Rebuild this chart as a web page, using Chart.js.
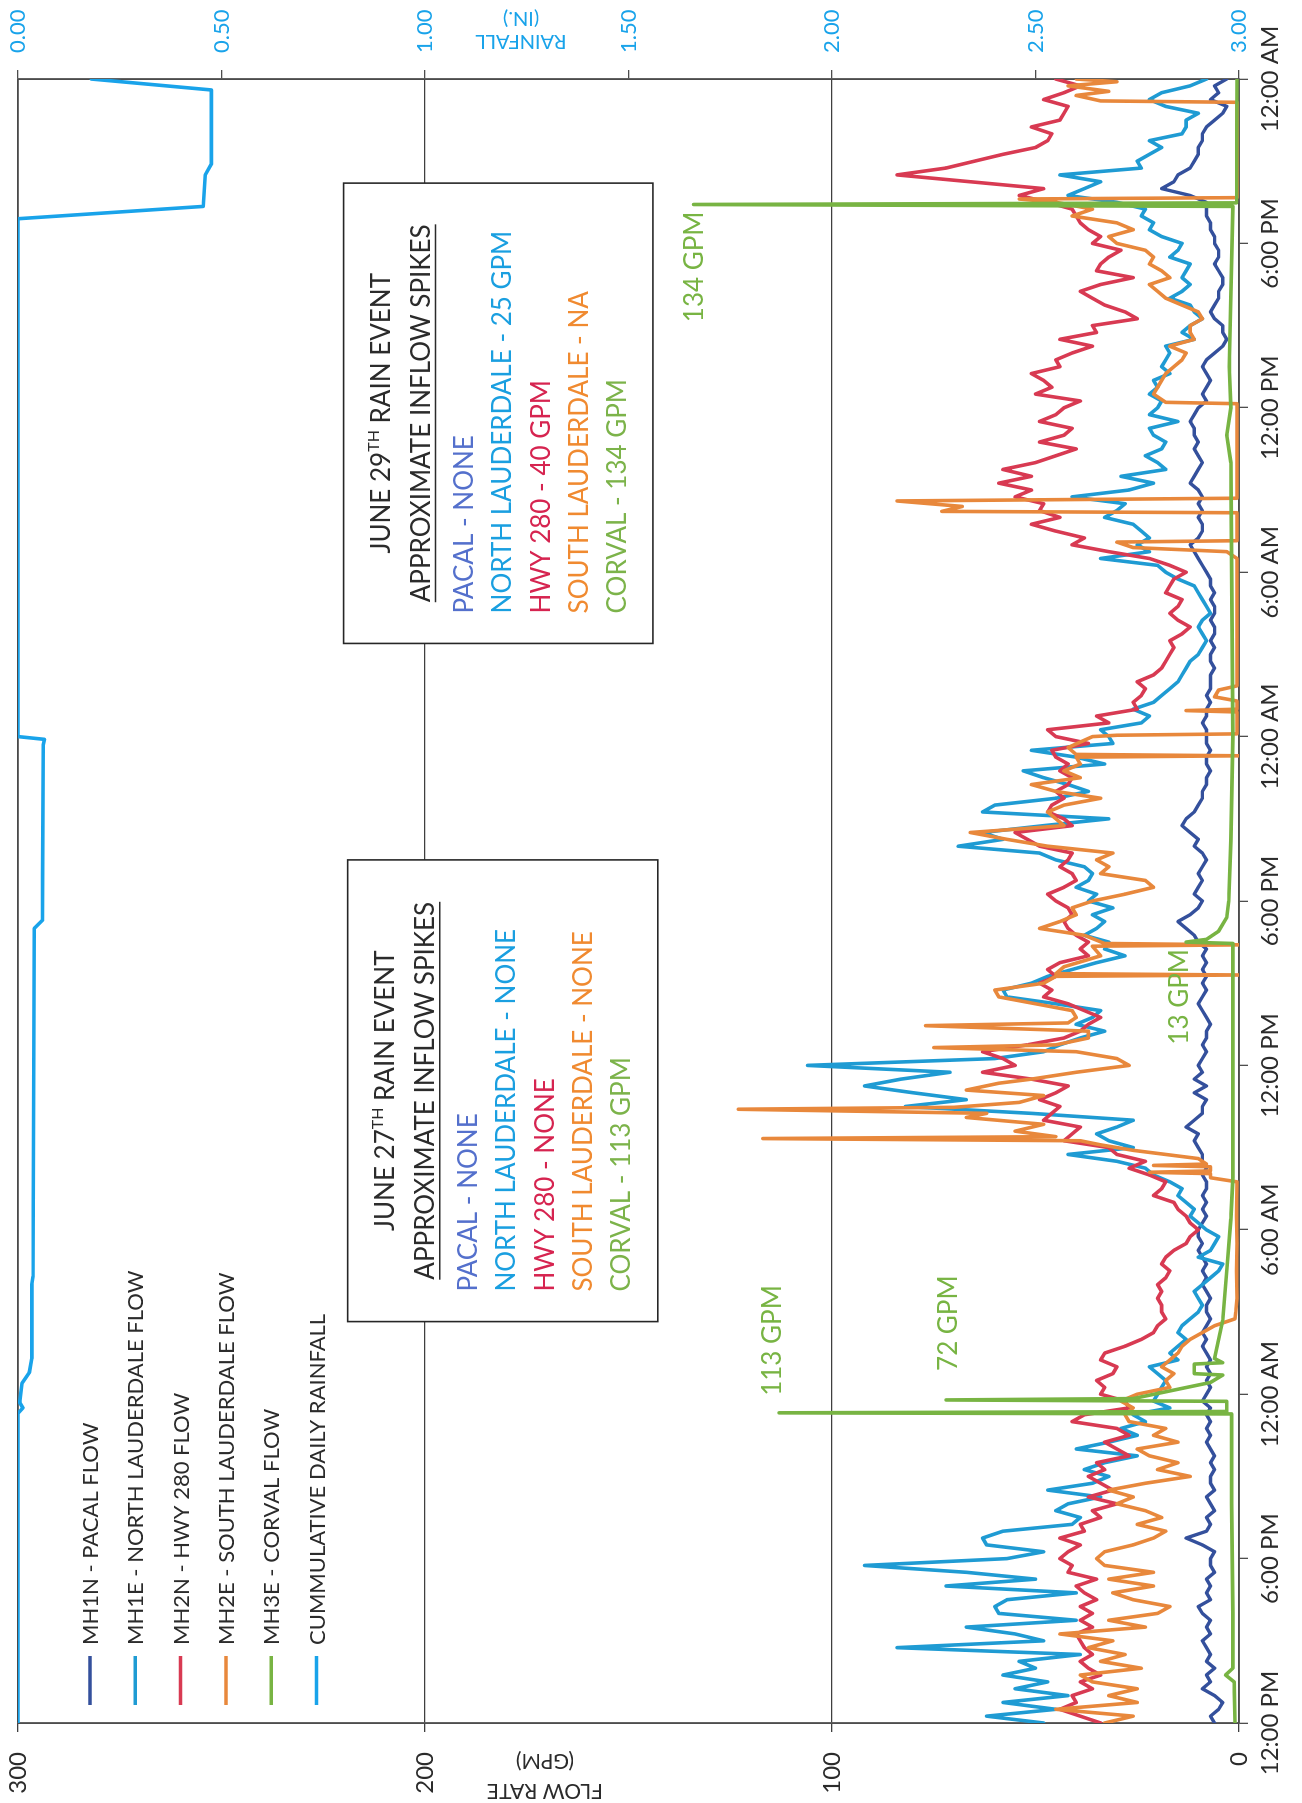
<!DOCTYPE html>
<html>
<head>
<meta charset="utf-8">
<title>Flow monitoring – June rain events</title>
<script src="https://cdn.jsdelivr.net/npm/chart.js@4/dist/chart.umd.min.js"></script>
<style>
  html, body { margin: 0; padding: 0; background: #ffffff; }
  body { width: 1302px; height: 1803px; overflow: hidden; position: relative; }
  /* the chart is laid out landscape and turned to fit the portrait sheet */
  #sheet {
    position: absolute; left: 0; top: 0;
    width: 1803px; height: 1302px;
    transform-origin: 0 0;
    transform: translate(0, 1803px) rotate(-90deg);
  }
  canvas { display: block; }
</style>
</head>
<body>
<div id="sheet"><canvas id="flow" width="1803" height="1302"></canvas></div>
<script>
// ---------------------------------------------------------------
// Data: hours counted from 12:00 PM on the first day (60 h span)
// ---------------------------------------------------------------
const TIME_TICK_HOURS = [0, 6, 12, 18, 24, 30, 36, 42, 48, 54, 60];
const TIME_LABELS = ['12:00 PM', '6:00 PM', '12:00 AM', '6:00 AM', '12:00 PM', '6:00 PM',
                     '12:00 AM', '6:00 AM', '12:00 PM', '6:00 PM', '12:00 AM'];
const FLOW_TICKS = [0, 100, 200, 300];
const RAIN_TICKS = [0, 0.5, 1, 1.5, 2, 2.5, 3];

// 15-minute sampling used by the three steadier meters
const HOURS = Array.from({ length: 241 }, (_, i) => i * 0.25);

// MH1N - Pacal flow (GPM)
const PACAL_GPM = [
  6,7,5,4,6,9,7,8,6,8, 7,8,9,7,8,7,9,10,7,8, 7,8,6,7,7,6,9,13,8,7, 8,6,7,8,6,7,7,6,7,6, 7,8,7,8,7,8,7,9,8,
  7,8,7,8,7,8,9,8,9,8, 7,8,8,7,8,9,8,9,8,9, 10,9,10,10,9,8,9,8,9,8, 8,9,8,9,9,10,11,10,13,11, 9,9,8,11,8,11,9,10,
  9,8,9,8,8,7,8,9,10,9, 8,9,8,9,8,9,8,10,11,13, 15,12,10,9,11,10,9,10,9,8, 9,11,10,12,14,13,11,10,9,9, 8,8,7,8,8,7,8,8,
  8,9,8,8,7,8,7,7,7,6, 7,7,6,7,6,6,7,6,6,7, 6,7,7,8,9,10,11,12,10,9, 9,10,9,10,9,10,12,11,10,9, 10,11,10,11,11,12,11,10,
  8,9,8,7,8,9,8,6,4,3, 4,4,6,7,6,5,5,4,4,5, 6,5,5,6,6,7,7,8,8,8, 12,19,16,15,12,11,10,10,9,9, 8,6,4,3,7,5,6,3
];

// MH1E - North Lauderdale flow (GPM)
const NORTH_LAUDERDALE_GPM = [
  48,62,45,58,42,55,47,58,50,54, 39,84,48,55,67,40,59,60,57,40, 72,50,67,92,57,48,62,63,58,41, 39,45,42,34,47,36,32,38,33,25, 40,32,25,29,23,26,17,21,20,
  19,18,20,22,15,17,15,13,15,14, 12,10,9,10,11,9,7,5,4,10, 7,6,5,8,10,12,11,13,15,14, 17,21,23,30,42,26,32,35,30,26, 51,82,67,80,92,83,71,106,
  60,48,44,39,33,40,36,34,45,57, 58,51,47,41,35,28,33,32,38,35, 33,36,31,37,35,40,37,36,38,45, 49,69,58,63,48,32,63,60,45,37, 42,48,53,33,40,51,31,32,
  34,24,22,26,21,19,17,15,14,13, 12,10,9,8,9,10,9,7,8,9, 10,11,15,18,20,34,22,25,22,24, 26,33,30,28,41,27,21,29,18,20, 23,19,18,21,22,15,22,20,
  19,22,20,21,17,19,18,17,18,11, 14,12,9,11,12,17,14,12,14,13, 12,17,15,14,19,22,21,24,23,30, 42,38,34,44,24,25,22,19,22,14, 13,13,10,18,22,19,12,8
];

// MH2N - HWY 280 flow (GPM)
const HWY_280_GPM = [
  34,39,44,40,41,36,39,34,37,39, 36,38,39,40,36,39,36,39,35,38, 40,35,42,41,44,42,39,44,38,39, 34,36,30,37,31,34,37,33,35,27, 30,33,27,30,41,38,27,28,34,
  33,35,31,30,34,33,28,24,21,20, 18,19,19,20,19,20,18,17,19,18, 16,13,12,10,12,13,15,16,21,19, 18,22,27,23,30,32,43,41,39,48, 46,44,49,45,42,51,63,55,
  58,63,52,43,39,37,34,38,42,48, 46,49,45,47,44,37,39,37,40,42, 43,41,42,45,47,43,40,41,44,42, 41,49,52,55,41,43,47,46,43,45, 42,41,44,42,45,46,37,45,
  47,32,35,25,26,24,23,25,21,19, 18,17,16,17,14,12,15,17,15,14, 18,17,16,13,17,22,32,41,38,45, 51,44,49,48,55,51,59,51,58,50, 45,40,49,43,41,49,45,43,
  39,50,46,48,51,44,45,41,36,44, 35,36,25,28,33,36,39,34,26,35, 34,32,29,36,34,37,39,40,41,47, 54,48,66,84,72,65,58,50,47,46, 51,44,43,42,48,43,39,45
];

// MH2E - South Lauderdale flow, [hour, GPM] (meter drop-outs read as zero)
const SOUTH_LAUDERDALE = [
  [0,33],[0.25,26],[0.5,45],[0.75,25],[1,32],[1.25,25],[1.5,36],[1.75,39],[2,24],[2.25,34],
  [2.5,28],[2.75,37],[3,31],[3.25,44],[3.5,23],[3.75,32],[4,20],[4.25,17],[4.5,26],[4.75,31],
  [5,21],[5.25,32],[5.5,21],[5.75,33],[6,35],[6.25,33],[6.5,26],[6.75,21],[7,18],[7.25,25],
  [7.5,19],[7.75,23],[8,30],[8.25,26],[8.5,32],[8.75,23],[9,12],[9.25,20],[9.5,15],[9.75,22],
  [10,25],[10.25,15],[10.5,21],[10.75,18],[11,27],[11.25,28],[11.5,26],[11.75,29],[12,25],
  [12.25,17],[12.5,18],[12.75,16],[13,19],[13.25,17],[13.5,15],[13.75,14],[14,12],[14.25,9],[14.5,6],
  [14.75,1],[15,0.8],[15.5,0.5],[16.5,0.6],[17.5,0.5],[18.5,0.6],[19.75,0.5],[19.9,7],[20.05,7],[20.1,22],
  [20.15,7],[20.3,7],[20.35,21],[20.4,8],[20.6,10],[20.9,26],[21.1,34],[21.25,39],[21.33,117],[21.4,45],
  [21.6,55],[21.85,48],[22.1,67],[22.25,62],[22.4,123],[22.47,70],[22.65,54],[22.9,48],[23.1,67],[23.35,59],
  [23.5,51],[23.75,40],[24,27],[24.25,30],[24.5,40],[24.65,75],[24.75,45],[25,37],[25.25,37],[25.45,77],
  [25.55,42],[25.75,40],[26,41],[26.25,50],[26.5,59],[26.75,60],[27,48],[27.25,45],[27.3,0],[27.35,45],
  [27.6,43],[28,34],[28.35,36],[28.4,0],[28.45,33],[28.75,38],[29,49],[29.25,44],[29.5,40],[29.75,41],
  [30,36],[30.25,28],[30.5,21],[30.75,23],[31,34],[31.25,32],[31.5,35],[31.75,31],[32,47],[32.25,57],
  [32.5,66],[32.75,43],[33,45],[33.25,47],[33.5,43],[33.75,34],[34,45],[34.25,51],[34.5,39],[34.75,43],
  [35,39],[35.25,40],[35.3,0],[35.35,40],[35.6,42],[35.8,39],[36,36],[36.05,30],[36.1,0.5],[36.9,0.5],
  [36.95,13],[37,0.5],[37.3,0.5],[37.45,6],[37.7,5],[37.85,0.5],[42.5,0.5],[42.75,3],[42.9,26],[43.1,30],
  [43.15,0.5],[44.17,0.5],[44.22,73],[44.4,68],[44.6,84],[44.7,0.5],[48.15,0.5],[48.2,18],[48.5,21],[48.75,20],
  [49,19],[49.25,18],[49.5,16],[49.75,14],[50,13],[50.25,17],[50.5,11],[50.75,12],[51,12],[51.25,9],
  [51.5,10],[51.75,14],[52,18],[52.25,20],[52.5,22],[52.75,17],[53,19],[53.25,22],[53.5,21],[53.75,23],
  [54,30],[54.25,32],[54.5,26],[54.75,30],[55,41],[55.25,36],[55.5,45],[55.62,54],[55.67,0.5],[59.15,0.5],
  [59.2,34],[59.4,40],[59.55,32],[59.75,42],[59.9,30],[60,40]
];

// MH3E - Corval flow, [hour, GPM]
const CORVAL = [
  [0,1.0],[1.5,1.2],[1.75,3.3],[2,1.5],[4,1.5],[8,1.8],[11.28,1.8],[11.32,113],[11.37,3],[11.74,3],
  [11.79,72],[11.84,26],[12.43,7],[12.7,4],[12.75,11],[13.1,11],[13.15,4],[13.3,6],[14.7,4],[16.5,3],
  [18.4,2],[19.9,1.5],[28.45,1.5],[28.5,13],[28.6,8],[28.9,5],[29.4,3],[30,2.5],[32.2,2],[36,1.5],
  [46,2],[47,3],[48,2],[49.5,2.4],[55.35,1.5],[55.42,134],[55.48,0.6],[60,0.5]
];

// Cumulative daily rainfall, [hour, inches] (resets at midnight)
const RAINFALL = [
  [0,0],[11.3,0],[11.5,0.012],[11.7,0.004],[12.4,0.01],[12.8,0.028],[13.3,0.034],[16,0.034],[16.3,0.037],
  [29,0.04],[29.3,0.06],[35.7,0.062],[35.9,0.065],[36,0],[54.9,0],[55.35,0.455],[56.5,0.46],[56.9,0.475],
  [59.6,0.475],[60,0.18]
];

// Rain-event summary boxes
const EVENT_BOXES = [
  { title: ['JUNE 27', 'TH', ' RAIN EVENT'],
    lines: ['PACAL - NONE', 'NORTH LAUDERDALE - NONE', 'HWY 280 - NONE', 'SOUTH LAUDERDALE - NONE', 'CORVAL - 113 GPM'] },
  { title: ['JUNE 29', 'TH', ' RAIN EVENT'],
    lines: ['PACAL - NONE', 'NORTH LAUDERDALE - 25 GPM', 'HWY 280 - 40 GPM', 'SOUTH LAUDERDALE - NA', 'CORVAL - 134 GPM'] }
];

// Corval spike call-outs: peak hour and value
const SPIKE_NOTES = [
  { text: '113 GPM', hour: 11.32, gpm: 113 },
  { text: '72 GPM',  hour: 11.79, gpm: 72 },
  { text: '13 GPM',  hour: 28.5,  gpm: 13 },
  { text: '134 GPM', hour: 55.42, gpm: 134 }
];

// ---------------------------------------------------------------
// Styling
// ---------------------------------------------------------------
const FONT = 'Lato, "Open Sans", "DejaVu Sans", sans-serif';
const INK = '#2b2b2b';
const FRAME = '#4d4d4d';
const COLORS = {
  pacal: '#34509c', north: '#1f9bd3', hwy: '#d83a52',
  south: '#e8883c', corval: '#78b443', rain: '#19a3ea'
};
const BOX_TEXT_COLORS = ['#5470cc', '#1a9fe0', '#d62450', '#f08a30', '#7cb34a'];

// box extents in axis units (hours, GPM)
const BOX_SPANS = [
  { h0: 14.65, h1: 31.5, top: 219, bottom: 142.8 },
  { h0: 39.4, h1: 56.2, top: 220, bottom: 144 }
];
// label offsets from each spike tip, px (along time, along flow)
const NOTE_OFFSETS = [
  { dx: 17, dy: -6, align: 'left' },
  { dx: 29, dy: 3, align: 'left' },
  { dx: -7, dy: -6, align: 'right' },
  { dx: -7, dy: 1, align: 'right' }
];

const grid = (h, v) => h.map((x, i) => ({ x, y: v[i] }));
const pairs = p => p.map(([x, y]) => ({ x, y }));

function line(label, data, color, order, axis, width) {
  return {
    label, data, order,
    yAxisID: axis,
    borderColor: color, backgroundColor: color,
    borderWidth: width, pointRadius: 0, tension: 0,
    fill: false, borderJoinStyle: 'round', borderCapStyle: 'round'
  };
}

// keep the plot frame fixed: no extra room for labels hanging past the ends
const pinVertical = w => s => { s.width = w; s.paddingTop = 0; s.paddingBottom = 0; };
const pinHorizontal = h => s => { s.height = h; s.paddingLeft = 0; s.paddingRight = 0; };

// ---------------------------------------------------------------
// Overlay: frame, axis titles, legend, event boxes, spike notes
// ---------------------------------------------------------------
const overlay = {
  id: 'overlay',
  beforeDatasetsDraw(chart) {
    const { ctx, chartArea: a } = chart;
    ctx.save();
    ctx.strokeStyle = FRAME;
    ctx.lineWidth = 1.5;
    ctx.strokeRect(a.left, a.top, a.right - a.left, a.bottom - a.top);
    ctx.restore();
  },
  afterDatasetsDraw(chart) {
    const { ctx, chartArea: a, scales } = chart;
    const xs = scales.x, ys = scales.y;
    ctx.save();

    // axis titles (turned to read upward)
    const vTitle = (lines, cu, cv, gap, color, size) => {
      ctx.save();
      ctx.translate(cu, cv);
      ctx.rotate(-Math.PI / 2);
      ctx.fillStyle = color;
      ctx.font = `${size}px ${FONT}`;
      ctx.textAlign = 'center';
      ctx.textBaseline = 'middle';
      lines.forEach((t, i) => ctx.fillText(t, 0, (i - (lines.length - 1) / 2) * gap));
      ctx.restore();
    };
    vTitle(['FLOW RATE', '(GPM)'], 27, 545, 30, INK, 21);
    vTitle(['RAINFALL', '(IN.)'], chart.width - 30, 521, 23, COLORS.rain, 20);

    // legend
    ctx.font = `22px ${FONT}`;
    ctx.textBaseline = 'middle';
    ctx.textAlign = 'left';
    chart.data.datasets.forEach((ds, i) => {
      const v = a.top + 72 + i * 45.3;
      ctx.strokeStyle = ds.borderColor;
      ctx.lineWidth = 3.5;
      ctx.beginPath();
      ctx.moveTo(a.left + 18, v);
      ctx.lineTo(a.left + 67, v);
      ctx.stroke();
      ctx.fillStyle = INK;
      ctx.fillText(ds.label, a.left + 78, v + 1);
    });

    // event boxes
    EVENT_BOXES.forEach((box, bi) => {
      const s = BOX_SPANS[bi];
      const l = xs.getPixelForValue(s.h0), r = xs.getPixelForValue(s.h1);
      const t = ys.getPixelForValue(s.top), b = ys.getPixelForValue(s.bottom);
      ctx.fillStyle = '#ffffff';
      ctx.fillRect(l, t, r - l, b - t);
      ctx.strokeStyle = '#262626';
      ctx.lineWidth = 1.6;
      ctx.strokeRect(l, t, r - l, b - t);

      const cx = (l + r) / 2;
      ctx.textBaseline = 'middle';
      ctx.fillStyle = INK;
      // title with superscript ordinal
      const big = `26px ${FONT}`, sup = `16px ${FONT}`;
      ctx.font = big; const w1 = ctx.measureText(box.title[0]).width;
      const w3 = ctx.measureText(box.title[2]).width;
      ctx.font = sup; const w2 = ctx.measureText(box.title[1]).width;
      let x = cx - (w1 + w2 + w3) / 2;
      ctx.textAlign = 'left';
      ctx.font = big; ctx.fillText(box.title[0], x, t + 38); x += w1;
      ctx.font = sup; ctx.fillText(box.title[1], x, t + 30); x += w2;
      ctx.font = big; ctx.fillText(box.title[2], x, t + 38);

      const sub = 'APPROXIMATE INFLOW SPIKES';
      const ws = ctx.measureText(sub).width;
      ctx.fillText(sub, cx - ws / 2, t + 78);
      ctx.strokeStyle = INK;
      ctx.lineWidth = 1.5;
      ctx.beginPath();
      ctx.moveTo(cx - ws / 2, t + 92);
      ctx.lineTo(cx + ws / 2, t + 92);
      ctx.stroke();

      box.lines.forEach((txt, i) => {
        ctx.fillStyle = BOX_TEXT_COLORS[i];
        ctx.fillText(txt, l + 30, t + 121 + i * 38.3);
      });
    });

    // spike call-outs
    ctx.font = `26px ${FONT}`;
    ctx.fillStyle = COLORS.corval;
    ctx.textBaseline = 'middle';
    SPIKE_NOTES.forEach((n, i) => {
      const o = NOTE_OFFSETS[i];
      ctx.textAlign = o.align;
      ctx.fillText(n.text, xs.getPixelForValue(n.hour) + o.dx, ys.getPixelForValue(n.gpm) + o.dy);
    });
    ctx.restore();
  }
};

function build() {
  const tickFont = { family: FONT, size: 24 };
  new Chart(document.getElementById('flow'), {
    type: 'line',
    data: {
      datasets: [
        line('MH1N - PACAL FLOW', grid(HOURS, PACAL_GPM), COLORS.pacal, 4, 'y', 3.4),
        line('MH1E - NORTH LAUDERDALE FLOW', grid(HOURS, NORTH_LAUDERDALE_GPM), COLORS.north, 3, 'y', 3.6),
        line('MH2N - HWY 280 FLOW', grid(HOURS, HWY_280_GPM), COLORS.hwy, 2, 'y', 3.6),
        line('MH2E - SOUTH LAUDERDALE FLOW', pairs(SOUTH_LAUDERDALE), COLORS.south, 1, 'y', 3.6),
        line('MH3E - CORVAL FLOW', pairs(CORVAL), COLORS.corval, 0, 'y', 3.6),
        line('CUMMULATIVE DAILY RAINFALL', pairs(RAINFALL), COLORS.rain, 5, 'rain', 3.6)
      ]
    },
    options: {
      responsive: false,
      devicePixelRatio: 1,
      animation: false,
      parsing: false,
      normalized: true,
      layout: { padding: { top: 18, left: 0, right: 0, bottom: 0 } },
      plugins: { legend: { display: false }, tooltip: { enabled: false } },
      scales: {
        x: {
          type: 'linear', position: 'bottom', min: 0, max: 60,
          afterBuildTicks: s => { s.ticks = TIME_TICK_HOURS.map(value => ({ value })); },
          afterFit: pinHorizontal(63),
          ticks: {
            callback: (v, i) => TIME_LABELS[i], autoSkip: false, maxRotation: 0,
            font: tickFont, color: INK, padding: 8
          },
          grid: { drawOnChartArea: false, drawTicks: true, tickLength: 9, color: FRAME, lineWidth: 1.3 },
          border: { display: true, color: FRAME, width: 1.5 }
        },
        y: {
          type: 'linear', position: 'left', min: 0, max: 300,
          afterBuildTicks: s => { s.ticks = FLOW_TICKS.map(value => ({ value })); },
          afterFit: pinVertical(80),
          ticks: { font: tickFont, color: INK, padding: 20 },
          grid: { color: '#3f3f3f', lineWidth: 1.3, tickLength: 9 },
          border: { display: true, color: FRAME, width: 1.5 }
        },
        rain: {
          type: 'linear', position: 'right', min: 0, max: 3, reverse: true,
          afterBuildTicks: s => { s.ticks = RAIN_TICKS.map(value => ({ value })); },
          afterFit: pinVertical(79),
          ticks: { callback: v => Number(v).toFixed(2), font: { family: FONT, size: 22 }, color: COLORS.rain, padding: 17 },
          grid: { drawOnChartArea: false, drawTicks: true, tickLength: 9, color: FRAME, lineWidth: 1.3 },
          border: { display: true, color: FRAME, width: 1.5 }
        }
      }
    },
    plugins: [overlay]
  });
}

const fontReady = (document.fonts && document.fonts.load)
  ? Promise.all([document.fonts.load(`24px ${FONT}`), document.fonts.load(`16px ${FONT}`)]).catch(() => {})
  : Promise.resolve();
fontReady.then(build);
</script>
</body>
</html>
